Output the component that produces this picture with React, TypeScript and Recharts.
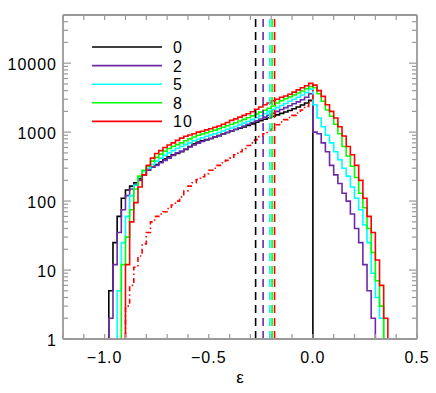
import { LineChart, Line, XAxis, YAxis, ReferenceLine, Label } from 'recharts';

// bin left edges (eps)
const binEdges = [
  -1.0, -0.98, -0.96, -0.94, -0.92, -0.9, -0.88, -0.86, -0.84, -0.82,
  -0.8, -0.78, -0.76, -0.74, -0.72, -0.7, -0.68, -0.66, -0.64, -0.62,
  -0.6, -0.58, -0.56, -0.54, -0.52, -0.5, -0.48, -0.46, -0.44, -0.42,
  -0.4, -0.38, -0.36, -0.34, -0.32, -0.3, -0.28, -0.26, -0.24, -0.22,
  -0.2, -0.18, -0.16, -0.14, -0.12, -0.1, -0.08, -0.06, -0.04, -0.02,
  0.0, 0.02, 0.04, 0.06, 0.08, 0.1, 0.12, 0.14, 0.16, 0.18,
  0.2, 0.22, 0.24, 0.26, 0.28, 0.3, 0.32, 0.34, 0.36, 0.38,
  0.4,
];

const counts0 = [
  1, 5, 25, 60, 110, 145, 165, 185, 210, 240,
  280, 310, 340, 370, 410, 440, 470, 490, 520, 560,
  620, 680, 720, 750, 780, 810, 850, 890, 940, 990,
  1040, 1090, 1140, 1190, 1250, 1320, 1390, 1460, 1540, 1620,
  1700, 1780, 1870, 1960, 2060, 2180, 2320, 2480, 2650, 2900,
  0, 0, 0, 0, 0, 0, 0, 0, 0, 0,
  0, 0, 0, 0, 0, 0, 0, 0, 0, 0,
  0,
];

const counts2 = [
  0, 2, 12, 35, 75, 120, 150, 175, 200, 240,
  280, 310, 330, 360, 390, 420, 460, 500, 530, 570,
  610, 650, 690, 730, 770, 810, 850, 890, 940, 990,
  1040, 1100, 1160, 1230, 1300, 1380, 1460, 1550, 1650, 1760,
  1880, 2000, 2130, 2270, 2420, 2580, 2750, 2950, 3200, 3600,
  1000, 950, 700, 520, 330, 240, 180, 130, 100, 65,
  40, 25, 12, 5, 2, 0, 0, 0, 0, 0,
  0,
];

const counts5 = [
  0, 0, 0, 5, 25, 60, 120, 170, 220, 270,
  300, 340, 380, 420, 460, 500, 540, 580, 620, 660,
  700, 750, 790, 830, 870, 910, 950, 990, 1040, 1100,
  1150, 1210, 1280, 1350, 1430, 1520, 1620, 1730, 1850, 1980,
  2120, 2270, 2430, 2600, 2800, 3000, 3200, 3450, 3750, 4200,
  2500, 1600, 1200, 900, 700, 520, 400, 300, 230, 160,
  110, 75, 45, 25, 9, 4, 2, 0, 0, 0,
  0,
];

const counts8 = [
  0, 0, 0, 0, 12, 30, 75, 150, 230, 280,
  320, 380, 430, 480, 530, 580, 620, 660, 700, 750,
  800, 850, 900, 940, 980, 1020, 1070, 1120, 1180, 1240,
  1300, 1370, 1450, 1530, 1620, 1720, 1830, 1950, 2080, 2220,
  2400, 2650, 2850, 3050, 3250, 3450, 3700, 3950, 4250, 4600,
  4400, 3600, 2800, 2100, 1700, 1300, 950, 620, 450, 320,
  220, 130, 80, 40, 18, 7, 3, 0, 0, 0,
  0,
];

const counts10 = [
  0, 0, 0, 0, 0, 12, 50, 95, 160, 240,
  330, 420, 490, 540, 600, 650, 700, 760, 820, 870,
  910, 950, 1000, 1030, 1080, 1120, 1180, 1230, 1300, 1380,
  1480, 1560, 1650, 1750, 1850, 1980, 2150, 2320, 2500, 2650,
  2850, 3000, 3200, 3350, 3550, 3800, 4100, 4400, 4700, 5100,
  4800, 4000, 3300, 2500, 2000, 1600, 1200, 880, 620, 470,
  330, 200, 110, 60, 35, 14, 6, 2, 1, 0,
  0,
];

// second red curve (dash-dot)
const counts10b = [
  null, null, null, null, 0, 3, 6, 11, 16, 24,
  35, 50, 60, 65, 70, 78, 88, 100, 115, 140,
  165, 185, 205, 225, 250, 280, 300, 330, 360, 390,
  420, 470, 520, 580, 640, 700, 780, 860, 950, 1060,
  1170, 1280, 1400, 1520, 1630, 1750, 1900, 2100, 2350, 2800,
  4800, null, null, null, null, null, null, null, null, null,
  null, null, null, null, null, null, null, null, null, null,
  null,
];

const seriesLabels = ['0', '2', '5', '8', '10'];
const seriesColors = ['#000000', '#6c2aa8', '#00ffff', '#00ff00', '#ff0000'];
const meanEps = [-0.275, -0.239, -0.207, -0.196, -0.184];

const xTicks = [
  -1.2, -1.1, -1.0, -0.9, -0.8, -0.7, -0.6, -0.5, -0.4, -0.3,
  -0.2, -0.1, 0.0, 0.1, 0.2, 0.3, 0.4, 0.5,
];
const xLabelTicks = [-1.0, -0.5, 0.0, 0.5];
const yMajorTicks = [1, 10, 100, 1000, 10000];
const yMinorTicks = [
  2, 3, 4, 5, 6, 7, 8, 9,
  20, 30, 40, 50, 60, 70, 80, 90,
  200, 300, 400, 500, 600, 700, 800, 900,
  2000, 3000, 4000, 5000, 6000, 7000, 8000, 9000,
  20000, 30000, 40000,
];

const FONT = '"Liberation Sans", Arial, Helvetica, sans-serif';
const FRAME = '#9a9a9a';

// plot box (chart is 436x393, axes sized so the plot sits here)
const PLOT_TOP = 15;
const PLOT_RIGHT = 417;

// log axis can't show zeros; push them below the floor so they get clipped
const floor = (v: number | null) => (v == null ? null : v > 0 ? v : 0.1);

const allCounts = [counts0, counts2, counts5, counts8, counts10];
const rows = binEdges.map((x, i) => {
  const row: Record<string, number | null> = { x };
  allCounts.forEach((c, k) => {
    row['s' + k] = floor(c[i]);
  });
  row.dd = floor(counts10b[i]);
  return row;
});

const isXLabel = (v: number) => xLabelTicks.some((t) => Math.abs(t - v) < 1e-6);
const fmtX = (v: number) => (Math.abs(v) < 1e-6 ? '0.0' : v.toFixed(1).replace('-', '\u2212'));
const isYMajor = (v: number) => yMajorTicks.includes(v);

// bottom axis tick: inward tick at bottom and mirrored one at top
function BottomTick(props: any) {
  const { x, y, payload } = props;
  const v = payload.value;
  return (
    <g>
      <line x1={x} x2={x} y1={y} y2={y - 5} stroke={FRAME} strokeWidth={1.2} />
      <line x1={x} x2={x} y1={PLOT_TOP} y2={PLOT_TOP + 5} stroke={FRAME} strokeWidth={1.2} />
      {isXLabel(v) && (
        <text x={x} y={y + 24} textAnchor="middle" fontSize={16} fontFamily={FONT} letterSpacing={1} fill="#000">
          {fmtX(v)}
        </text>
      )}
    </g>
  );
}

// left axis tick: inward tick at left and mirrored one at right
function LeftTick(props: any) {
  const { x, y, payload } = props;
  const major = isYMajor(payload.value);
  const len = major ? 8 : 5;
  return (
    <g>
      <line x1={x} x2={x + len} y1={y} y2={y} stroke={FRAME} strokeWidth={1.2} />
      <line x1={PLOT_RIGHT} x2={PLOT_RIGHT - len} y1={y} y2={y} stroke={FRAME} strokeWidth={1.2} />
      {major && (
        <text x={x - 6} y={y + 7} textAnchor="end" fontSize={16} fontFamily={FONT} letterSpacing={1} fill="#000">
          {payload.value}
        </text>
      )}
    </g>
  );
}

const axisLine = { stroke: FRAME, strokeWidth: 1.8 };
const yTicks = [...yMajorTicks, ...yMinorTicks];

export default function App() {
  return (
    <div style={{ position: 'absolute', left: 0, top: 0, width: 436, height: 393, background: '#fff' }}>
      <LineChart width={436} height={393} data={rows} margin={{ top: 0, right: 0, bottom: 0, left: 0 }}>
        <XAxis
          dataKey="x"
          type="number"
          domain={[-1.2, 0.5]}
          allowDataOverflow
          ticks={xTicks}
          interval={0}
          tickSize={0}
          tickMargin={0}
          tickLine={false}
          tick={BottomTick}
          axisLine={axisLine}
          height={54}
        >
          <Label value="ε" position="insideBottom" offset={10} fontSize={17} fontFamily={FONT} fill="#000" />
        </XAxis>
        <XAxis xAxisId="top" orientation="top" type="number" domain={[-1.2, 0.5]} tick={false} tickLine={false} axisLine={axisLine} height={15} />
        <YAxis
          type="number"
          scale="log"
          domain={[1, 50000]}
          allowDataOverflow
          ticks={yTicks}
          interval={0}
          tickSize={0}
          tickMargin={0}
          tickLine={false}
          tick={LeftTick}
          axisLine={axisLine}
          width={63}
        />
        <YAxis yAxisId="right" orientation="right" type="number" tick={false} tickLine={false} axisLine={axisLine} width={19} />
        {seriesLabels.map((name, k) => (
          <Line
            key={name}
            type="stepAfter"
            dataKey={'s' + k}
            name={name}
            stroke={seriesColors[k]}
            strokeWidth={1.6}
            dot={false}
            isAnimationActive={false}
          />
        ))}
        <Line
          type="stepAfter"
          dataKey="dd"
          stroke={seriesColors[4]}
          strokeWidth={1.6}
          strokeDasharray="5 3 1.5 3"
          dot={false}
          isAnimationActive={false}
        />
        {meanEps.map((m, k) => (
          <ReferenceLine key={k} x={m} stroke={seriesColors[k]} strokeWidth={1.6} strokeDasharray="8 5" />
        ))}
      </LineChart>
      <svg width={436} height={393} style={{ position: 'absolute', left: 0, top: 0, pointerEvents: 'none' }}>
        {seriesLabels.map((name, k) => {
          const y = 47 + k * 18.6;
          return (
            <g key={name}>
              <line x1={92} x2={162} y1={y} y2={y} stroke={seriesColors[k]} strokeWidth={1.6} />
              <text x={173} y={y + 6} fontSize={16} fontFamily={FONT} letterSpacing={1} fill="#000">
                {name}
              </text>
            </g>
          );
        })}
      </svg>
    </div>
  );
}
